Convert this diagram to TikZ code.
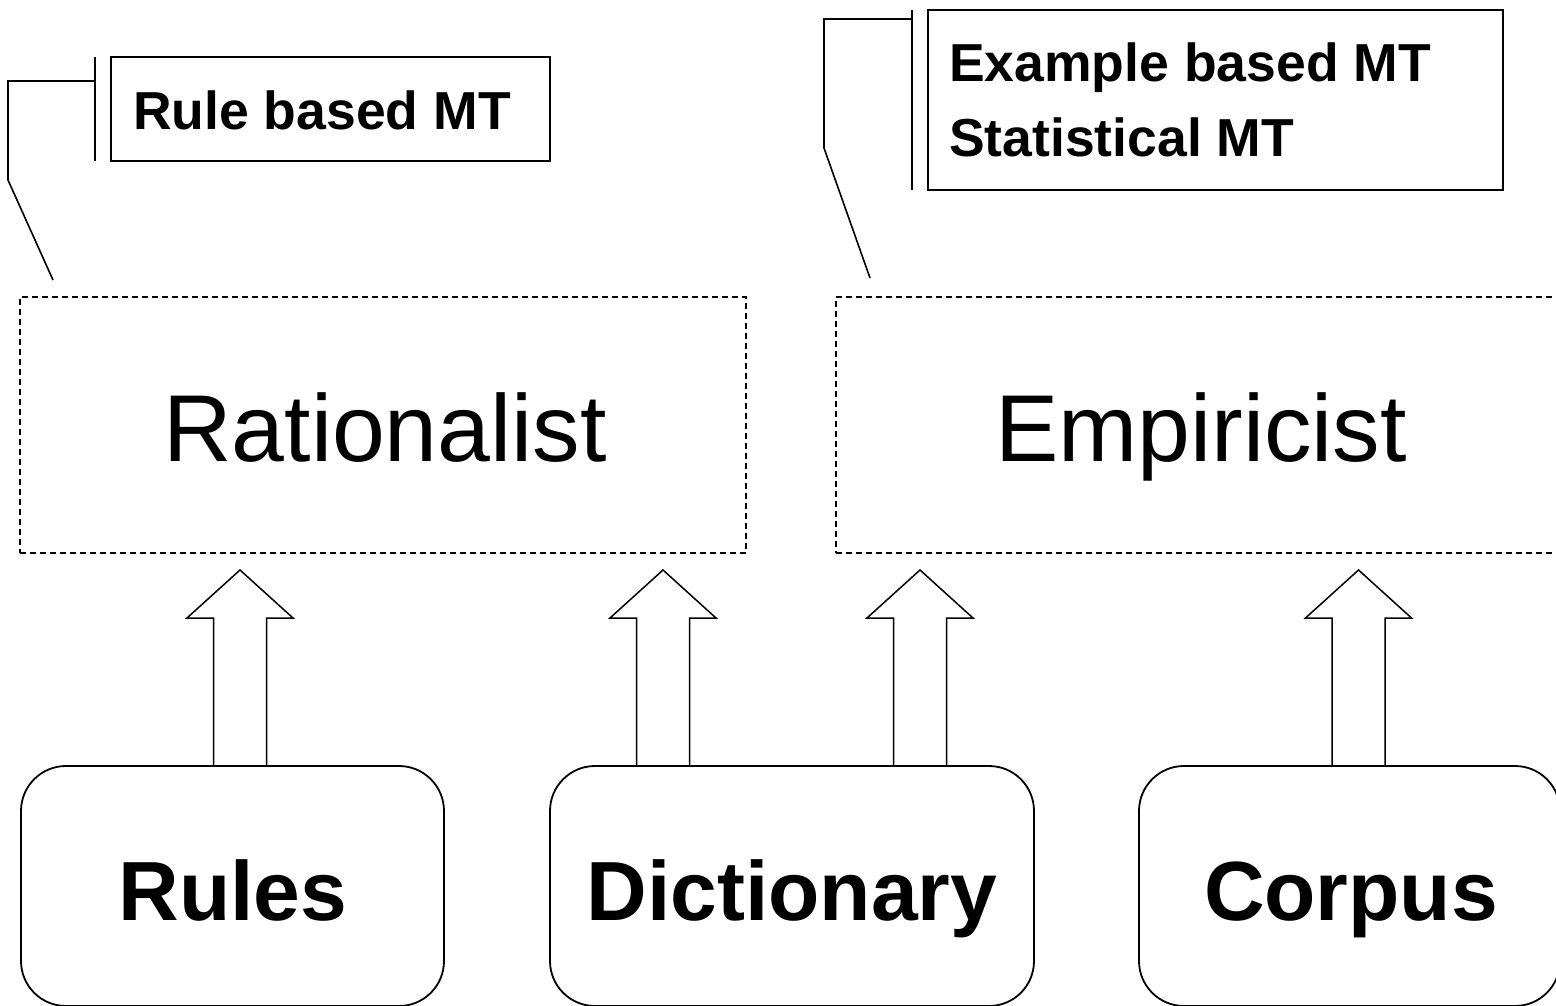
\documentclass[tikz,border=0pt]{standalone}
\usepackage{fontspec}
\setmainfont{Liberation Sans}
\usetikzlibrary{calc}
\newcommand\blockarrow[2]{%
  \draw[arrowline] let \p1=(#1), \p2=(#2) in
    (\x1-26.5pt,\y1) -- (\x1-26.5pt,\y2-48pt) -- (\x1-53pt,\y2-48pt) --
    (\x2,\y2) -- (\x1+53pt,\y2-48pt) -- (\x1+26.5pt,\y2-48pt) -- (\x1+26.5pt,\y1);}
\begin{document}
\begin{tikzpicture}[x=1pt,y=-1pt,
  callbox/.style={draw, line width=1.6pt, inner sep=0pt},
  leader/.style={draw, line width=1.6pt},
  dashbox/.style={draw, line width=1.2pt, dash pattern=on 6pt off 4pt, inner sep=0pt},
  roundbox/.style={draw, line width=1.8pt, rounded corners=45pt, inner sep=0pt},
  arrowline/.style={line width=1.5pt, line join=miter},
  small/.style={font=\bfseries\fontsize{53.5}{62}\selectfont, anchor=base west, inner sep=0pt},
  big/.style={font=\fontsize{95}{110}\selectfont, anchor=base, inner sep=0pt},
  bottomlabel/.style={font=\bfseries\fontsize{84}{100}\selectfont, anchor=base, inner sep=0pt}
]
\useasboundingbox (0,0) rectangle (1556,1006);
\clip (0,0) rectangle (1556,1006);

% callout boxes
\node[callbox, minimum width=439pt, minimum height=104pt] (cb1) at (330.5,109) {};
\node[small] (rbmt) at (133,130) {Rule based MT};
\node[callbox, minimum width=575pt, minimum height=180pt] (cb2) at (1215.5,100) {};
\node[small] (ebmt) at (949,82) {Example based MT};
\node[small] (smt) at (949,157) {Statistical MT};

% callout bars and leaders
\coordinate (b1t) at (95,57);
\coordinate (b1b) at (95,161);
\coordinate (l1a) at (95,81);
\coordinate (l1b) at (8,81);
\coordinate (l1c) at (8,180);
\coordinate (l1d) at (53,280);
\draw[leader] (b1t) -- (b1b);
\draw[leader] (l1a) -- (l1b) -- (l1c) -- (l1d);

\coordinate (b2t) at (912,10);
\coordinate (b2b) at (912,190);
\coordinate (l2a) at (912,19);
\coordinate (l2b) at (824,19);
\coordinate (l2c) at (824,148);
\coordinate (l2d) at (870,278);
\draw[leader] (b2t) -- (b2b);
\draw[leader] (l2a) -- (l2b) -- (l2c) -- (l2d);

% dashed boxes
\node[dashbox, minimum width=726pt, minimum height=256pt] (rat) at (383,425) {};
\node[big] (ratlab) at (385,461) {Rationalist};
\node[dashbox, minimum width=780pt, minimum height=256pt] (emp) at (1226,425) {};
\node[big] (emplab) at (1201,461) {Empiricist};

% bottom boxes
\node[roundbox, minimum width=423pt, minimum height=240pt] (rules) at (232.5,886) {};
\node[bottomlabel] (ruleslab) at (233,920) {Rules};
\node[roundbox, minimum width=484pt, minimum height=240pt] (dict) at (792,886) {};
\node[bottomlabel] (dictlab) at (792,920) {Dictionary};
\node[roundbox, minimum width=421pt, minimum height=240pt] (corp) at (1349.5,886) {};
\node[bottomlabel] (corplab) at (1351,920) {Corpus};

% block arrows
\coordinate (a1b) at (240,766);  \coordinate (a1t) at (240,570);
\coordinate (a2b) at (663,766);  \coordinate (a2t) at (663,570);
\coordinate (a3b) at (920,766);  \coordinate (a3t) at (920,570);
\coordinate (a4b) at (1358.5,766); \coordinate (a4t) at (1358.5,570);
\blockarrow{a1b}{a1t}
\blockarrow{a2b}{a2t}
\blockarrow{a3b}{a3t}
\blockarrow{a4b}{a4t}
\end{tikzpicture}
\end{document}
